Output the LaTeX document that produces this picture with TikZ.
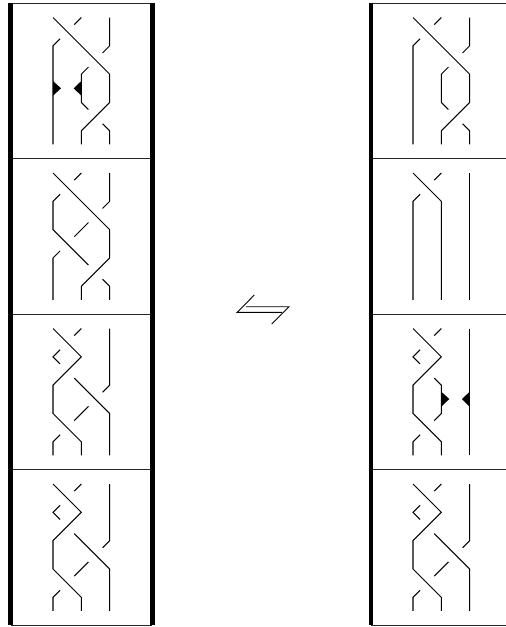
\documentclass[tikz,border=0pt]{standalone}
\tikzset{
  strand/.style={line width=1.05pt,line join=miter,line cap=butt},
  rail/.style={line width=4.7pt,line cap=butt},
  sep/.style={line width=0.9pt,black!85},
  cell/.style={shift={#1},x=28.33pt,y=-28.33pt},
  harpoon/.style={line width=0.9pt,line join=miter}
}
% shared strand pieces (columns 0,1,2; rows 0..4, ends at 4.48)
\newcommand{\pieceTopLeft}{\draw[strand] (1,0) -- (0.75,0.25);}
\newcommand{\pieceLongOver}{\draw[strand] (0,0) -- (2,2) -- (2,3) -- (1,4) -- (1,4.48);
  \draw[strand] (2,0) -- (2,1) -- (1.75,1.25);
  \draw[strand] (1.75,3.75) -- (2,4) -- (2,4.48);}
\newcommand{\pieceZig}{\draw[strand] (0,0) -- (1,1) -- (0,2) -- (0,3) -- (1,4) -- (1,4.48);
  \draw[strand] (0.25,0.75) -- (0,1) -- (0.25,1.25);
  \draw[strand] (0.25,3.75) -- (0,4) -- (0,4.48);}
\newcommand{\braidOne}{\pieceTopLeft\pieceLongOver
  \draw[strand] (0.25,0.75) -- (0,1) -- (0,4.48);
  \draw[strand] (1.25,1.75) -- (1,2) -- (1,3) -- (1.25,3.25);}
\newcommand{\braidTwo}{\pieceTopLeft\pieceLongOver
  \draw[strand] (0.25,0.75) -- (0,1) -- (0,2) -- (1.25,3.25);
  \draw[strand] (1.25,1.75) -- (0.75,2.25);
  \draw[strand] (0.25,2.75) -- (0,3) -- (0,4.48);}
\newcommand{\braidThree}{\pieceTopLeft\pieceZig
  \draw[strand] (0.75,1.75) -- (2,3) -- (2,4.48);
  \draw[strand] (2,0) -- (2,2) -- (1.75,2.25);
  \draw[strand] (1.25,2.75) -- (0.75,3.25);}
\newcommand{\braidFour}{\pieceTopLeft
  \draw[strand] (0,0) -- (1,1) -- (1,4.48);
  \draw[strand] (0.25,0.75) -- (0,1) -- (0,4.48);
  \draw[strand] (2,0) -- (2,4.48);}
\newcommand{\braidFive}{\pieceTopLeft\pieceZig
  \draw[strand] (0.75,1.75) -- (1,2) -- (1,3) -- (0.75,3.25);
  \draw[strand] (2,0) -- (2,4.48);}
\begin{document}
\begin{tikzpicture}[x=1pt,y=-1pt]
\useasboundingbox (0,0) rectangle (506,627);
% separators
\foreach \yy in {3,158.7,314.2,469.7,625}{
  \draw[sep] (11,\yy) -- (152,\yy);
  \draw[sep] (371,\yy) -- (506,\yy);
}
% rails
\draw[rail] (10.8,2.6) -- (10.8,625.4);
\draw[rail] (152.2,2.6) -- (152.2,625.4);
\draw[rail] (371,2.6) -- (371,625.4);
% left column braids
\begin{scope}[cell={(53,17.5)}]\braidOne\end{scope}
\begin{scope}[cell={(53,173)}]\braidTwo\end{scope}
\begin{scope}[cell={(53,328.5)}]\braidThree\end{scope}
\begin{scope}[cell={(53,484)}]\braidThree\end{scope}
% right column braids
\begin{scope}[cell={(413,17.5)}]\braidOne\end{scope}
\begin{scope}[cell={(413,173)}]\braidFour\end{scope}
\begin{scope}[cell={(413,328.5)}]\braidFive\end{scope}
\begin{scope}[cell={(413,484)}]\braidThree\end{scope}
% markers
\fill (53,81) -- (61,88.3) -- (53,95.7) -- cycle;
\fill (81.3,81) -- (73.7,88.3) -- (81.3,95.7) -- cycle;
\fill (441.3,391.7) -- (449.3,399) -- (441.3,406.7) -- cycle;
\fill (469.7,391.7) -- (462,399) -- (469.7,406.7) -- cycle;
% equilibrium arrows
\draw[harpoon] (254.3,295) -- (237.3,312.3) -- (282,312.3);
\draw[harpoon] (246,306.7) -- (289,306.7) -- (271.7,324);
\end{tikzpicture}
\end{document}
